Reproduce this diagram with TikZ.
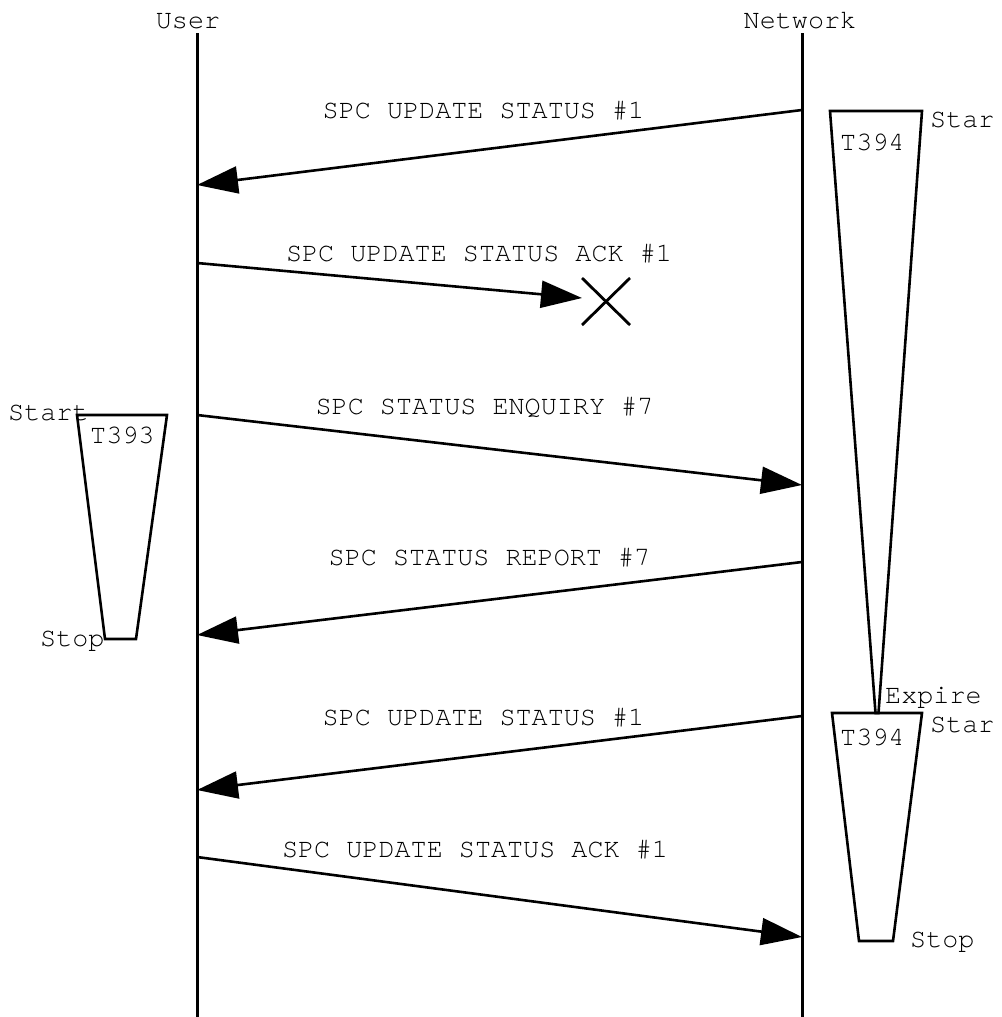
\documentclass[tikz,border=0pt]{standalone}
\usepackage{fontspec}
\newfontfamily\courfont{TeX Gyre Cursor}
\usetikzlibrary{arrows.meta}
\tikzset{
  lbl/.style={inner sep=0pt, font=\courfont\fontsize{26.8}{30}\selectfont, anchor=base},
  lblw/.style={lbl, anchor=base west},
  lifeline/.style={line width=3pt},
  msg/.style={line width=2.6pt, -{Triangle[length=41pt,width=27pt]}},
  timer/.style={line width=2.6pt, line join=miter},
  lost/.style={line width=2.8pt},
}
\begin{document}
\begin{tikzpicture}[x=1pt,y=-1pt]
\useasboundingbox (0,0) rectangle (1001,1017);
% lifelines
\node[lbl] (userlbl) at (188,28) {User};
\node[lbl] (netlbl) at (800,28) {Network};
\coordinate (utop) at (197,33); \coordinate (ubot) at (197,1017);
\coordinate (ntop) at (802,33); \coordinate (nbot) at (802,1017);
\draw[lifeline] (utop) -- (ubot);
\draw[lifeline] (ntop) -- (nbot);
% timers
\draw[timer] (830,111) -- (922,111) -- (878.5,713) -- (875.5,713) -- cycle;
\draw[timer] (832,713) -- (922,713) -- (893,941) -- (859,941) -- cycle;
\draw[timer] (77,415) -- (167,415) -- (136,639) -- (105,639) -- cycle;
\node[lblw] (t394a) at (840,150) {T394};
\node[lblw] (star1) at (930,127) {Star};
\node[lblw] (expire) at (885,703) {Expire};
\node[lblw] (star2) at (930,732) {Star};
\node[lblw] (t394b) at (840,745) {T394};
\node[lblw] (stop2) at (910,947) {Stop};
\node[lblw] (start3) at (8,420) {Start};
\node[lblw] (t393) at (90,443) {T393};
\node[lblw] (stop3) at (40,646) {Stop};
% messages
\coordinate (m1s) at (802,110); \coordinate (m1e) at (197,185);
\draw[msg] (m1s) -- (m1e);
\node[lbl] (l1) at (483.5,118) {SPC UPDATE STATUS \#1};
\coordinate (m2s) at (197,263); \coordinate (m2e) at (582,298);
\draw[msg] (m2s) -- (m2e);
\node[lbl] (l2) at (479,261) {SPC UPDATE STATUS ACK \#1};
\coordinate (xa) at (582,278); \coordinate (xb) at (630,325);
\coordinate (xc) at (630,278); \coordinate (xd) at (582,325);
\draw[lost] (xa) -- (xb);
\draw[lost] (xc) -- (xd);
\coordinate (m3s) at (197,415); \coordinate (m3e) at (802,485);
\draw[msg] (m3s) -- (m3e);
\node[lbl] (l3) at (484.5,414.5) {SPC STATUS ENQUIRY \#7};
\coordinate (m4s) at (802,562); \coordinate (m4e) at (197,635);
\draw[msg] (m4s) -- (m4e);
\node[lbl] (l4) at (489.5,565.5) {SPC STATUS REPORT \#7};
\coordinate (m5s) at (802,716); \coordinate (m5e) at (197,790);
\draw[msg] (m5s) -- (m5e);
\node[lbl] (l5) at (483.5,725.5) {SPC UPDATE STATUS \#1};
\coordinate (m6s) at (197,857); \coordinate (m6e) at (802,937);
\draw[msg] (m6s) -- (m6e);
\node[lbl] (l6) at (475,857) {SPC UPDATE STATUS ACK \#1};
\end{tikzpicture}
\end{document}
